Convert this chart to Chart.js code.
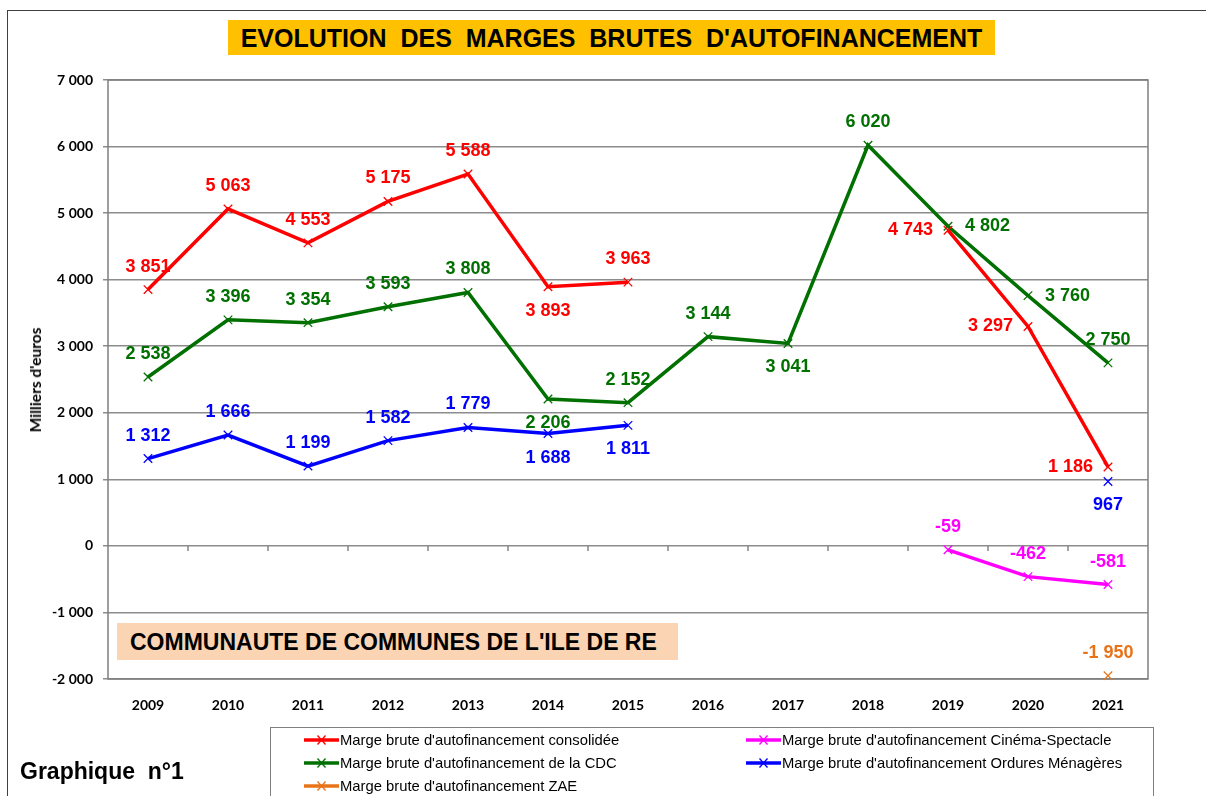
<!DOCTYPE html>
<html lang="fr">
<head>
<meta charset="utf-8">
<title>Evolution des marges brutes d'autofinancement</title>
<script src="https://cdn.jsdelivr.net/npm/chart.js@4.4.1/dist/chart.umd.min.js"></script>
<style>
  html, body { margin: 0; padding: 0; background: #fff; }
  #wrap { position: relative; width: 1206px; height: 796px; overflow: hidden; font-family: "Liberation Sans", Arial, sans-serif; }
  #frame { position: absolute; left: 7px; top: 10px; width: 1220px; height: 800px; border-left: 1.5px solid #404040; border-top: 1.5px solid #404040; }
  #chart { position: absolute; left: 0; top: 0; }
  #title { position: absolute; left: 228px; top: 20px; width: 767px; height: 35px; background: #FFC000; font-weight: bold; font-size: 25px; line-height: 36px; text-align: center; color: #000; white-space: pre; }
  #subtitle { position: absolute; left: 117px; top: 623px; width: 561px; height: 37px; background: #FBD4B4; font-weight: bold; font-size: 23px; line-height: 38px; padding-left: 13px; box-sizing: border-box; color: #000; white-space: nowrap; }
  #ytitle { position: absolute; left: 35px; top: 380px; transform: translate(-50%, -50%) rotate(-90deg); font-family: Lato, sans-serif; font-size: 15.5px; font-weight: bold; white-space: nowrap; color: #000; }
  #graph { position: absolute; left: 20px; top: 758px; font-weight: bold; font-size: 23px; white-space: pre; color: #000; }
  #legend { position: absolute; left: 270px; top: 727px; width: 884px; height: 90px; border: 1px solid #7f7f7f; box-sizing: border-box; }
  .item { position: absolute; display: flex; align-items: center; font-size: 14.8px; color: #000; white-space: nowrap; }
  .item svg { margin-right: 1px; }
</style>
</head>
<body>
<div id="wrap">
  <div id="frame"></div>
  <canvas id="chart" width="1206" height="796"></canvas>
  <div id="title">EVOLUTION  DES  MARGES  BRUTES  D'AUTOFINANCEMENT</div>
  <div id="subtitle">COMMUNAUTE DE COMMUNES DE L'ILE DE RE</div>
  <div id="ytitle">Milliers d'euros</div>
  <div id="graph">Graphique  n°1</div>
  <div id="legend"></div>
</div>
<script>
// Years on the x axis
const years = ['2009', '2010', '2011', '2012', '2013', '2014', '2015', '2016', '2017', '2018', '2019', '2020', '2021'];

// Series values (milliers d'euros), null = no value that year
const consolidee = [3851, 5063, 4553, 5175, 5588, 3893, 3963, null, null, null, 4743, 3297, 1186];
const cdc = [2538, 3396, 3354, 3593, 3808, 2206, 2152, 3144, 3041, 6020, 4802, 3760, 2750];
const ordures = [1312, 1666, 1199, 1582, 1779, 1688, 1811, null, null, null, null, null, 967];
const cinema = [null, null, null, null, null, null, null, null, null, null, -59, -462, -581];
const zae = [null, null, null, null, null, null, null, null, null, null, null, null, -1950];

// Y axis range
const yMin = -2000;
const yMax = 7000;
const yStep = 1000;

// Where each data label goes relative to its point
const posConsolidee = ['top', 'top', 'top', 'top', 'top', 'bottom', 'top', null, null, null, 'left', 'left', 'left'];
const posCdc = ['top', 'top', 'top', 'top', 'top', 'bottom', 'top', 'top', 'bottom', 'top', 'right', 'right', 'top'];
const posOrdures = ['top', 'top', 'top', 'top', 'top', 'bottom', 'bottom', null, null, null, null, null, 'bottom'];
const posCinema = ['top', 'top', 'top', 'top', 'top', 'top', 'top', 'top', 'top', 'top', 'top', 'top', 'top'];
const posZae = posCinema;

// French style thousands separator
function fmt(v) {
  const s = String(Math.abs(Math.round(v))).replace(/\B(?=(\d{3})+(?!\d))/g, ' ');
  return (v < 0 ? '-' : '') + s;
}

function series(label, data, color, positions) {
  return {
    label,
    data,
    borderColor: color,
    backgroundColor: color,
    borderWidth: 3.5,
    pointStyle: 'crossRot',
    pointRadius: 6,
    pointBorderWidth: 1.3,
    pointBorderColor: color,
    spanGaps: false,
    clip: false,
    tension: 0,
    labelPos: positions,
  };
}

const datasets = [
  series("Marge brute d'autofinancement consolidée", consolidee, '#FF0000', posConsolidee),
  series("Marge brute d'autofinancement Cinéma-Spectacle", cinema, '#FF00FF', posCinema),
  series("Marge brute d'autofinancement de la CDC", cdc, '#007000', posCdc),
  series("Marge brute d'autofinancement Ordures Ménagères", ordures, '#0000FF', posOrdures),
  series("Marge brute d'autofinancement ZAE", zae, '#E8741A', posZae),
];

// Draw order: green under red/blue like the original
const drawOrder = [2, 3, 0, 1, 4];
datasets.forEach((ds, i) => { ds.order = 10 - drawOrder.indexOf(i); });

// Plot border + small ticks on the zero line
const framePlugin = {
  id: 'frame',
  beforeDatasetsDraw(chart) {
    const { ctx, chartArea, scales } = chart;
    const x = scales.x;
    const y0 = scales.y.getPixelForValue(0);
    ctx.save();
    ctx.strokeStyle = '#868686';
    ctx.lineWidth = 1.5;
    ctx.beginPath();
    for (let i = 1; i < years.length; i++) {
      const px = x.left + (x.width / years.length) * i;
      ctx.moveTo(px, y0);
      ctx.lineTo(px, y0 + 5);
    }
    ctx.stroke();
    ctx.strokeStyle = '#7f7f7f';
    ctx.strokeRect(chartArea.left, chartArea.top, chartArea.right - chartArea.left, chartArea.bottom - chartArea.top);
    ctx.restore();
  },
};

// Value labels beside each point
const labelPlugin = {
  id: 'valueLabels',
  afterDatasetsDraw(chart) {
    const { ctx } = chart;
    ctx.save();
    ctx.font = 'bold 18px "Liberation Sans", Arial, sans-serif';
    chart.data.datasets.forEach((ds, di) => {
      const meta = chart.getDatasetMeta(di);
      ctx.fillStyle = ds.borderColor;
      meta.data.forEach((pt, i) => {
        const v = ds.data[i];
        if (v === null || v === undefined) return;
        const pos = ds.labelPos[i] || 'top';
        let tx = pt.x;
        let ty = pt.y;
        ctx.textBaseline = 'middle';
        ctx.textAlign = 'center';
        if (pos === 'top') ty -= 23;
        else if (pos === 'bottom') ty += 24;
        else if (pos === 'left') { tx -= 15; ctx.textAlign = 'right'; }
        else if (pos === 'right') { tx += 17; ctx.textAlign = 'left'; }
        ctx.fillText(fmt(v), tx, ty);
      });
    });
    ctx.restore();
  },
};

const ctx = document.getElementById('chart').getContext('2d');
new Chart(ctx, {
  type: 'line',
  data: { labels: years, datasets },
  options: {
    responsive: false,
    animation: false,
    layout: { padding: { top: 80, right: 58, left: 0, bottom: 0 } },
    plugins: {
      legend: { display: false },
      tooltip: { enabled: false },
    },
    scales: {
      x: {
        offset: true,
        grid: { display: false },
        border: { display: false },
        ticks: {
          color: '#000',
          font: { family: 'Lato', weight: 'bold', size: 14 },
          padding: 10,
          maxRotation: 0,
        },
        afterFit(scale) { scale.height = 796 - 679; },
      },
      y: {
        min: yMin,
        max: yMax,
        grid: { color: '#8c8c8c', lineWidth: 1.5, tickLength: 5, drawTicks: true },
        border: { display: false },
        ticks: {
          stepSize: yStep,
          color: '#000',
          font: { family: 'Lato', weight: 'bold', size: 14 },
          padding: 10,
          callback: (v) => fmt(v),
        },
        afterFit(scale) { scale.width = 108; },
      },
    },
  },
  plugins: [framePlugin, labelPlugin],
});

// HTML legend, two columns as in the original
const legendEl = document.getElementById('legend');
const legendSpots = [
  [33, 4], [475, 4], [33, 27], [475, 27], [33, 50],
];
datasets.forEach((ds, i) => {
  const item = document.createElement('div');
  item.className = 'item';
  item.style.left = legendSpots[i][0] + 'px';
  item.style.top = legendSpots[i][1] + 'px';
  const c = ds.borderColor;
  item.innerHTML =
    '<svg width="35" height="12"><line x1="0" y1="6" x2="35" y2="6" stroke="' + c + '" stroke-width="3.5"/>' +
    '<line x1="13.5" y1="1.5" x2="21.5" y2="10.5" stroke="' + c + '" stroke-width="1.3"/>' +
    '<line x1="21.5" y1="1.5" x2="13.5" y2="10.5" stroke="' + c + '" stroke-width="1.3"/></svg>' +
    '<span></span>';
  item.querySelector('span').textContent = ds.label;
  legendEl.appendChild(item);
});
</script>
</body>
</html>
